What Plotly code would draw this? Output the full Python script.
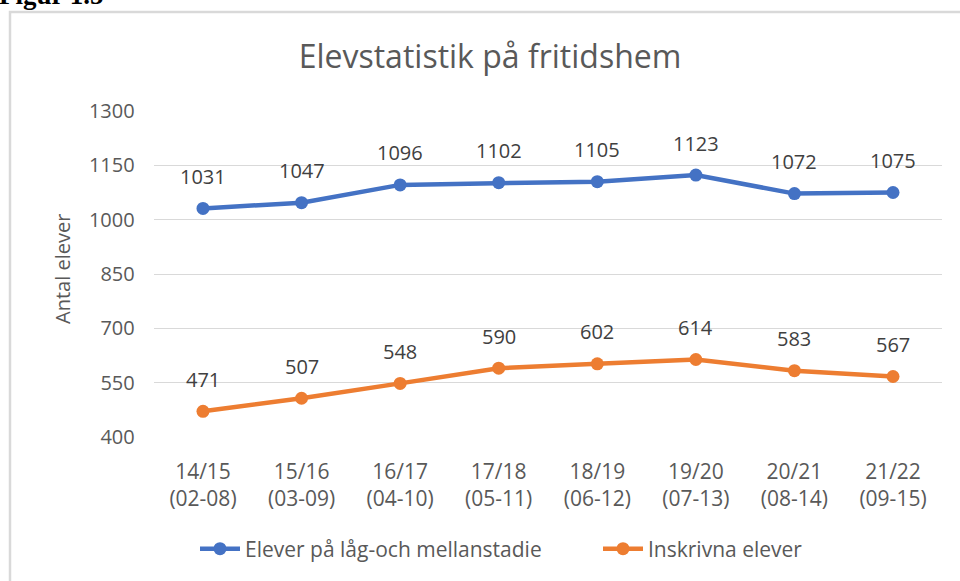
import plotly.graph_objects as go

W, H = 960, 581

categories = ["14/15<br>(02-08)", "15/16<br>(03-09)", "16/17<br>(04-10)", "17/18<br>(05-11)",
              "18/19<br>(06-12)", "19/20<br>(07-13)", "20/21<br>(08-14)", "21/22<br>(09-15)"]
lag_mellan = [1031, 1047, 1096, 1102, 1105, 1123, 1072, 1075]
inskrivna = [471, 507, 548, 590, 602, 614, 583, 567]
series_names = ["Elever på låg-och mellanstadie", "Inskrivna elever"]
y_ticks = [400, 550, 700, 850, 1000, 1150, 1300]

BLUE = "#4472C4"
ORANGE = "#ED7D31"
FONT = "Open Sans"

def px_x(x):
    return x / W

def px_y(y):
    return 1 - y / H

fig = go.Figure()
for name, vals, col, lg in [(series_names[0], lag_mellan, BLUE, "legend"),
                            (series_names[1], inskrivna, ORANGE, "legend2")]:
    fig.add_trace(go.Scatter(
        x=categories, y=vals, name=name, mode="lines+markers",
        line=dict(color=col, width=4.5),
        marker=dict(color=col, size=13),
        legend=lg,
    ))

annotations = []
for vals in (lag_mellan, inskrivna):
    for c, v in zip(categories, vals):
        annotations.append(dict(
            x=c, y=v, xref="x", yref="y", text=str(v), showarrow=False,
            yshift=32, font=dict(family=FONT, size=20, color="#404040"),
        ))

annotations.append(dict(
    x=px_x(62), y=px_y(269), xref="paper", yref="paper", text="Antal elever",
    textangle=-90, showarrow=False, xanchor="center", yanchor="middle",
    font=dict(family=FONT, size=20, color="#595959"),
))
annotations.append(dict(
    x=0, y=px_y(12), xref="paper", yref="paper", text="<b>Figur 1.5</b>",
    showarrow=False, xanchor="left", yanchor="bottom", xshift=-3,
    font=dict(family="Liberation Serif", size=27, color="#000000"),
))

legend_common = dict(orientation="h", xanchor="left", y=px_y(549), yanchor="middle",
                     font=dict(family=FONT, size=21, color="#595959"), itemwidth=40,
                     bgcolor="rgba(0,0,0,0)")

fig.update_layout(
    width=W, height=H,
    margin=dict(l=0, r=0, t=0, b=0, pad=0),
    paper_bgcolor="white", plot_bgcolor="white",
    title=dict(text="Elevstatistik på fritidshem", x=px_x(490), xanchor="center",
               y=px_y(57), yanchor="middle",
               font=dict(family=FONT, size=32, color="#595959")),
    xaxis=dict(type="category", range=[-0.5, 7.5], domain=[px_x(153.7), px_x(942.3)],
               showgrid=False, zeroline=False, showline=False, ticks="",
               automargin=False,
               tickfont=dict(family=FONT, size=21, color="#595959"),
               ticklabelstandoff=20),
    yaxis=dict(range=[400, 1300], tickvals=y_ticks, domain=[px_y(437), px_y(111)],
               showgrid=True, gridcolor="#D9D9D9", gridwidth=1.3, zeroline=False,
               showline=False, ticks="", automargin=False,
               tickfont=dict(family=FONT, size=20, color="#595959"),
               ticklabelstandoff=18),
    legend=dict(x=px_x(195), **legend_common),
    legend2=dict(x=px_x(598), **legend_common),
    showlegend=True,
    annotations=annotations,
    shapes=[dict(type="rect", xref="paper", yref="paper",
                 x0=px_x(10), x1=1.2, y0=-0.2, y1=px_y(12),
                 line=dict(color="#D9D9D9", width=2.5), layer="below")],
)

fig.write_html("out.html", config={"displayModeBar": False},
               post_script="document.body.style.margin='0px';document.body.style.overflow='hidden';")
